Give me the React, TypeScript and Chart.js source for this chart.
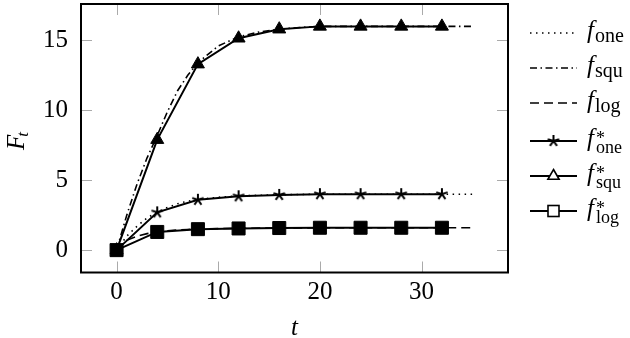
import React, { useEffect, useRef } from "react";
import { Chart, registerables } from "chart.js";

Chart.register(...registerables);

// Marker series (t sampled every 4)
const markerT = [0, 4, 8, 12, 16, 20, 24, 28, 32];
const fOneStar = [0, 2.7, 3.6, 3.85, 3.95, 4.0, 4.0, 4.0, 4.0];
const fSquStar = [0, 7.9, 13.3, 15.15, 15.8, 16.0, 16.0, 16.0, 16.0];
const fLogStar = [0, 1.3, 1.5, 1.55, 1.58, 1.6, 1.6, 1.6, 1.6];

// Continuous curves (read at these t values)
const curveT = [0, 1, 2, 3, 4, 5, 6, 7, 8, 10, 12, 14, 16, 18, 20, 24, 28, 32, 35];
const fOne = [0, 1.0, 1.7, 2.3, 2.72, 3.05, 3.32, 3.5, 3.63, 3.78, 3.87, 3.92, 3.96, 3.98, 4.0, 4.0, 4.0, 4.0, 4.0];
const fSqu = [0, 2.5, 4.7, 6.6, 8.2, 9.9, 11.4, 12.5, 13.4, 14.6, 15.25, 15.6, 15.8, 15.92, 16.0, 16.0, 16.0, 16.0, 16.0];
const fLog = [0, 0.7, 1.0, 1.18, 1.3, 1.38, 1.44, 1.48, 1.51, 1.54, 1.56, 1.57, 1.58, 1.59, 1.6, 1.6, 1.6, 1.6, 1.6];

const xTickValues = [0, 10, 20, 30];
const yTickValues = [0, 5, 10, 15];

const legendSubs = ["one", "squ", "log", "one", "squ", "log"];

const SERIF = "'Liberation Serif', 'DejaVu Serif', serif";

function makeStar(r: number, lw: number, color: string): HTMLCanvasElement {
  const size = Math.ceil(2 * r + lw * 2 + 2);
  const c = document.createElement("canvas");
  c.width = size;
  c.height = size;
  const g = c.getContext("2d")!;
  const cx = size / 2;
  const cy = size / 2;
  g.strokeStyle = color;
  g.lineWidth = lw;
  g.lineCap = "butt";
  for (let k = 0; k < 5; k++) {
    const a = -Math.PI / 2 + (k * 2 * Math.PI) / 5;
    g.beginPath();
    g.moveTo(cx, cy);
    g.lineTo(cx + r * Math.cos(a), cy + r * Math.sin(a));
    g.stroke();
  }
  return c;
}

const pts = (xs: number[], ys: number[]) => xs.map((x, i) => ({ x, y: ys[i] }));

export default function App() {
  const ref = useRef<HTMLCanvasElement | null>(null);
  useEffect(() => {
    const canvas = ref.current!;
    const star = makeStar(6, 2, "#000");

    const overlay = {
      id: "overlay",
      beforeDatasetsDraw(chart: any) {
        const { ctx, chartArea: a, scales } = chart;
        ctx.save();
        ctx.strokeStyle = "#aaaaaa";
        ctx.lineWidth = 1;
        const tl = 11;
        for (const v of xTickValues) {
          const px = Math.round(scales.x.getPixelForValue(v)) + 0.5;
          ctx.beginPath();
          ctx.moveTo(px, a.bottom);
          ctx.lineTo(px, a.bottom - tl);
          ctx.moveTo(px, a.top);
          ctx.lineTo(px, a.top + tl);
          ctx.stroke();
        }
        for (const v of yTickValues) {
          const py = Math.round(scales.y.getPixelForValue(v)) + 0.5;
          ctx.beginPath();
          ctx.moveTo(a.left, py);
          ctx.lineTo(a.left + tl, py);
          ctx.moveTo(a.right, py);
          ctx.lineTo(a.right - tl, py);
          ctx.stroke();
        }
        ctx.restore();
      },
      afterDraw(chart: any) {
        const { ctx, chartArea: a } = chart;
        ctx.save();
        // frame
        ctx.strokeStyle = "#000";
        ctx.lineWidth = 2;
        ctx.strokeRect(a.left, a.top, a.right - a.left, a.bottom - a.top);

        // axis titles
        ctx.fillStyle = "#000";
        ctx.textBaseline = "alphabetic";
        ctx.textAlign = "center";
        ctx.font = `italic 25px ${SERIF}`;
        ctx.fillText("t", (a.left + a.right) / 2, 335);

        ctx.save();
        ctx.translate(24, 137);
        ctx.rotate(-Math.PI / 2);
        ctx.textAlign = "left";
        ctx.font = `italic 25px ${SERIF}`;
        ctx.fillText("F", -13, 0);
        const fw = ctx.measureText("F").width;
        ctx.font = `italic 17px ${SERIF}`;
        ctx.fillText("t", -13 + fw - 2, 4);
        ctx.restore();

        // legend
        const rows = [33, 68, 103, 141, 176, 211];
        const x0 = 530;
        const x1 = 577;
        const xm = (x0 + x1) / 2;
        rows.forEach((y, i) => {
          ctx.save();
          ctx.strokeStyle = "#000";
          ctx.beginPath();
          if (i === 0) {
            ctx.lineWidth = 1.6;
            ctx.setLineDash([1.5, 4.5]);
          } else if (i === 1) {
            ctx.lineWidth = 1.6;
            ctx.setLineDash([7, 3.5, 1.5, 3.5]);
          } else if (i === 2) {
            ctx.lineWidth = 1.6;
            ctx.setLineDash([9, 5]);
          } else {
            ctx.lineWidth = 2;
          }
          ctx.moveTo(x0, y);
          ctx.lineTo(x1, y);
          ctx.stroke();
          ctx.setLineDash([]);
          if (i === 3) {
            ctx.drawImage(star, xm - star.width / 2, y - star.height / 2);
          } else if (i === 4) {
            const r = 6.5;
            ctx.beginPath();
            ctx.moveTo(xm, y - r);
            ctx.lineTo(xm + r * 0.866, y + r * 0.5);
            ctx.lineTo(xm - r * 0.866, y + r * 0.5);
            ctx.closePath();
            ctx.fillStyle = "#fff";
            ctx.fill();
            ctx.lineWidth = 1.6;
            ctx.stroke();
          } else if (i === 5) {
            const s = 5.5;
            ctx.fillStyle = "#fff";
            ctx.fillRect(xm - s, y - s, 2 * s, 2 * s);
            ctx.lineWidth = 1.6;
            ctx.strokeRect(xm - s, y - s, 2 * s, 2 * s);
          }
          ctx.restore();

          ctx.fillStyle = "#000";
          ctx.textAlign = "left";
          ctx.font = `italic 25px ${SERIF}`;
          ctx.fillText("f", 587, y + 5);
          const w = ctx.measureText("f").width;
          if (i >= 3) {
            ctx.font = `18px ${SERIF}`;
            ctx.fillText("*", 587 + w + 2, y + 3);
            ctx.fillText(legendSubs[i], 587 + w + 2, y + 12);
          } else {
            ctx.font = `20px ${SERIF}`;
            ctx.fillText(legendSubs[i], 587 + w + 1, y + 9);
          }
        });
        ctx.restore();
      },
    };

    const chart = new Chart(canvas, {
      type: "line",
      data: {
        datasets: [
          {
            label: "f_one",
            data: pts(curveT, fOne),
            borderColor: "#000",
            borderWidth: 1.6,
            borderDash: [1.5, 4.5],
            pointRadius: 0,
            fill: false,
          },
          {
            label: "f_squ",
            data: pts(curveT, fSqu),
            borderColor: "#000",
            borderWidth: 1.6,
            borderDash: [7, 3.5, 1.5, 3.5],
            pointRadius: 0,
            fill: false,
          },
          {
            label: "f_log",
            data: pts(curveT, fLog),
            borderColor: "#000",
            borderWidth: 1.6,
            borderDash: [9, 5],
            pointRadius: 0,
            fill: false,
          },
          {
            label: "f*_one",
            data: pts(markerT, fOneStar),
            borderColor: "#000",
            borderWidth: 2,
            pointStyle: star as any,
            pointRadius: 6,
            fill: false,
          },
          {
            label: "f*_squ",
            data: pts(markerT, fSquStar),
            borderColor: "#000",
            backgroundColor: "#000",
            borderWidth: 2,
            pointStyle: "triangle",
            pointRadius: 7.5,
            pointBorderWidth: 1,
            fill: false,
          },
          {
            label: "f*_log",
            data: pts(markerT, fLogStar),
            borderColor: "#000",
            backgroundColor: "#000",
            borderWidth: 2,
            pointStyle: "rect",
            pointRadius: 9.2,
            pointBorderWidth: 1,
            fill: false,
          },
        ],
      },
      options: {
        responsive: false,
        animation: false,
        events: [],
        layout: { autoPadding: false, padding: { left: 0, top: 4, right: 122, bottom: 0 } },
        plugins: {
          legend: { display: false },
          tooltip: { enabled: false },
        },
        elements: { line: { tension: 0 } },
        scales: {
          x: {
            type: "linear",
            min: -3.5,
            max: 38.5,
            grid: { display: false, drawTicks: false },
            border: { display: false },
            afterBuildTicks: (s: any) => {
              s.ticks = xTickValues.map((v) => ({ value: v }));
            },
            afterFit: (s: any) => {
              s.height = 65.5;
              s.paddingLeft = 0;
              s.paddingRight = 0;
            },
            ticks: {
              padding: 5,
              color: "#000",
              font: { family: SERIF, size: 25 },
            },
          },
          y: {
            type: "linear",
            min: -1.6,
            max: 17.6,
            grid: { display: false, drawTicks: false },
            border: { display: false },
            afterBuildTicks: (s: any) => {
              s.ticks = yTickValues.map((v) => ({ value: v }));
            },
            afterFit: (s: any) => {
              s.width = 81;
              s.paddingTop = 0;
              s.paddingBottom = 0;
            },
            ticks: {
              padding: 13,
              color: "#000",
              font: { family: SERIF, size: 25 },
            },
          },
        },
      },
      plugins: [overlay],
    } as any);
    return () => chart.destroy();
  }, []);

  return (
    <div style={{ position: "fixed", left: 0, top: 0, width: 630, height: 338, background: "#fff" }}>
      <canvas ref={ref} width={630} height={338} style={{ display: "block" }} />
    </div>
  );
}
